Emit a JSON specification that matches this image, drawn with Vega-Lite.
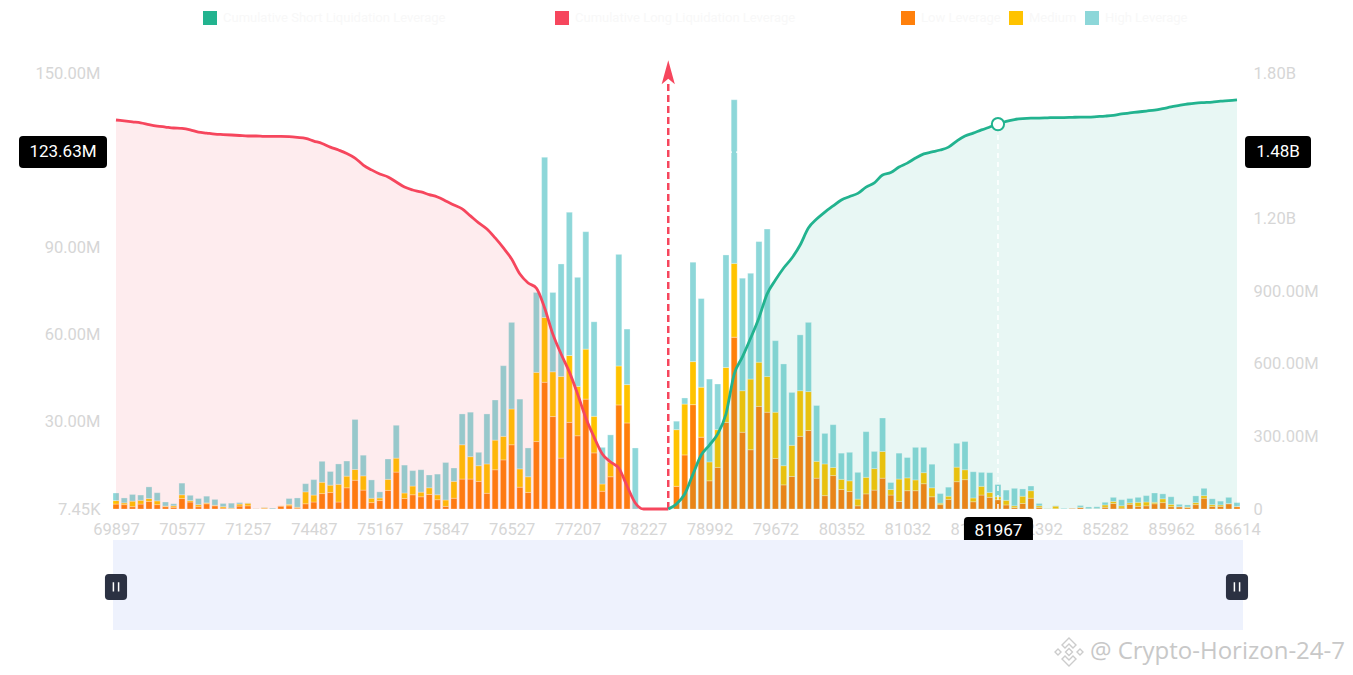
{
"$schema":"https://vega.github.io/schema/vega-lite/v6.json",
"width":1121,"height":436,
"autosize":{"type":"none"},
"padding":{"left":116,"top":73,"right":116,"bottom":166},
"background":"#ffffff",
"config":{"view":{"stroke":null},"font":"Roboto"},
"data":{"values":[
{"p":69897,"low":1.7,"mid":1.2,"top":2.6,"long":1.606},
{"p":69982,"low":1.5,"mid":0.6,"top":1.7,"long":1.602},
{"p":70067,"low":0.8,"mid":1.9,"top":2.3,"long":1.598},
{"p":70152,"low":1.7,"mid":1.3,"top":1.8,"long":1.594},
{"p":70237,"low":2.6,"mid":1.0,"top":4.0,"long":1.587},
{"p":70322,"low":1.5,"mid":1.3,"top":2.8,"long":1.581},
{"p":70407,"low":0.8,"mid":0.2,"top":1.4,"long":1.577},
{"p":70492,"low":0.6,"mid":0.5,"top":0.7,"long":1.573},
{"p":70577,"low":3.6,"mid":1.3,"top":4.0,"long":1.571},
{"p":70662,"low":2.4,"mid":0.5,"top":1.8,"long":1.565},
{"p":70747,"low":0.8,"mid":0.7,"top":2.1,"long":1.556},
{"p":70832,"low":1.8,"mid":0.3,"top":2.3,"long":1.552},
{"p":70917,"low":1.1,"mid":0.2,"top":2.0,"long":1.548},
{"p":71002,"low":0.3,"mid":0.5,"top":1.1,"long":1.546},
{"p":71087,"low":0.1,"mid":0.2,"top":1.7,"long":1.544},
{"p":71172,"low":1.0,"mid":0.7,"top":0.5,"long":1.542},
{"p":71257,"low":1.1,"mid":0.9,"top":0.1,"long":1.540},
{"p":71342,"low":0.05,"mid":0.05,"top":0.05,"long":1.540},
{"p":71512,"low":0.2,"mid":0.3,"top":0.1,"long":1.538},
{"p":72107,"low":0.05,"mid":0,"top":0.3,"long":1.538},
{"p":72787,"low":1.0,"mid":0.1,"top":0,"long":1.538},
{"p":73467,"low":1.1,"mid":0.5,"top":2.0,"long":1.537},
{"p":74317,"low":0.3,"mid":0.3,"top":3.2,"long":1.534},
{"p":74402,"low":1.8,"mid":4.1,"top":2.8,"long":1.530},
{"p":74487,"low":2.4,"mid":2.4,"top":5.3,"long":1.519},
{"p":74572,"low":5.3,"mid":3.9,"top":7.2,"long":1.509},
{"p":74657,"low":5.7,"mid":2.5,"top":4.7,"long":1.494},
{"p":74742,"low":2.4,"mid":6.1,"top":7.0,"long":1.482},
{"p":74827,"low":7.3,"mid":4.0,"top":5.2,"long":1.468},
{"p":74912,"low":9.9,"mid":3.7,"top":17.2,"long":1.449},
{"p":74997,"low":6.5,"mid":4.9,"top":7.1,"long":1.420},
{"p":75082,"low":2.2,"mid":1.5,"top":6.3,"long":1.400},
{"p":75167,"low":2.9,"mid":0.9,"top":2.1,"long":1.383},
{"p":75252,"low":6.4,"mid":3.8,"top":7.0,"long":1.371},
{"p":75337,"low":12.7,"mid":4.8,"top":11.3,"long":1.350},
{"p":75422,"low":3.6,"mid":1.9,"top":9.6,"long":1.329},
{"p":75507,"low":4.9,"mid":3.0,"top":5.3,"long":1.317},
{"p":75592,"low":4.2,"mid":1.6,"top":7.7,"long":1.309},
{"p":75677,"low":5.0,"mid":2.3,"top":4.4,"long":1.298},
{"p":75762,"low":3.2,"mid":1.7,"top":7.1,"long":1.288},
{"p":75847,"low":0.9,"mid":2.2,"top":12.9,"long":1.272},
{"p":75932,"low":3.7,"mid":5.8,"top":4.6,"long":1.255},
{"p":76017,"low":10.3,"mid":11.8,"top":10.6,"long":1.239},
{"p":76102,"low":10.3,"mid":7.7,"top":15.3,"long":1.210},
{"p":76187,"low":9.5,"mid":5.4,"top":4.6,"long":1.181},
{"p":76272,"low":5.4,"mid":10.1,"top":17.2,"long":1.156},
{"p":76357,"low":13.5,"mid":10.2,"top":13.8,"long":1.119},
{"p":76442,"low":16.9,"mid":8.1,"top":24.3,"long":1.078},
{"p":76527,"low":22.1,"mid":12.3,"top":29.8,"long":1.032},
{"p":76612,"low":7.5,"mid":6.3,"top":24.0,"long":0.970},
{"p":76697,"low":5.7,"mid":5.4,"top":9.9,"long":0.933},
{"p":76782,"low":23.2,"mid":23.8,"top":27.5,"long":0.912},
{"p":76867,"low":43.6,"mid":22.3,"top":55.1,"long":0.830},
{"p":76952,"low":31.8,"mid":15.4,"top":27.3,"long":0.722},
{"p":77037,"low":17.5,"mid":28.1,"top":38.7,"long":0.640},
{"p":77122,"low":29.8,"mid":23.0,"top":49.3,"long":0.566},
{"p":77207,"low":25.2,"mid":17.0,"top":37.5,"long":0.475},
{"p":77292,"low":37.8,"mid":17.2,"top":40.4,"long":0.376},
{"p":77377,"low":19.3,"mid":12.6,"top":32.5,"long":0.297},
{"p":77462,"low":6.1,"mid":2.5,"top":12.6,"long":0.227},
{"p":77547,"low":11.1,"mid":5.0,"top":9.4,"long":0.194},
{"p":77632,"low":35.8,"mid":13.4,"top":38.4,"long":0.169},
{"p":77717,"low":29.6,"mid":13.2,"top":19.1,"long":0.095},
{"p":77802,"low":0,"mid":0,"top":21.0,"long":0.025},
{"p":78227,"low":0,"mid":0,"top":0,"long":0},
{"p":78312,"low":0,"mid":0,"top":0,"long":0},
{"p":78397,"low":0,"mid":0,"top":0,"long":0},
{"p":78482,"low":0,"mid":0,"top":0,"long":0,"short":0},
{"p":78652,"low":7.8,"mid":19.5,"top":2.9,"short":0.021},
{"p":78737,"low":18.6,"mid":17.5,"top":2.1,"short":0.062},
{"p":78822,"low":35.9,"mid":14.8,"top":34.2,"short":0.144},
{"p":78907,"low":24.7,"mid":17.2,"top":30.5,"short":0.223},
{"p":78992,"low":9.7,"mid":6.5,"top":28.5,"short":0.264},
{"p":79077,"low":14.3,"mid":13.0,"top":15.7,"short":0.310},
{"p":79162,"low":29.8,"mid":18.9,"top":38.7,"short":0.392},
{"p":79247,"low":59.1,"mid":25.4,"top":56.3,"short":0.557},
{"p":79332,"low":26.4,"mid":14.3,"top":38.7,"short":0.628},
{"p":79417,"low":20.4,"mid":24.3,"top":36.4,"short":0.706},
{"p":79502,"low":35.3,"mid":15.2,"top":41.5,"short":0.789},
{"p":79587,"low":33.3,"mid":12.3,"top":50.7,"short":0.888},
{"p":79672,"low":17.4,"mid":15.9,"top":24.6,"short":0.945},
{"p":79757,"low":8.3,"mid":6.6,"top":35.0,"short":0.995},
{"p":79842,"low":11.2,"mid":10.7,"top":18.2,"short":1.036},
{"p":79927,"low":25.0,"mid":15.7,"top":19.2,"short":1.090},
{"p":80012,"low":27.0,"mid":13.4,"top":23.8,"short":1.160},
{"p":80097,"low":10.6,"mid":5.8,"top":19.2,"short":1.197},
{"p":80182,"low":4.6,"mid":10.9,"top":10.5,"short":1.226},
{"p":80267,"low":11.5,"mid":2.8,"top":14.7,"short":1.251},
{"p":80352,"low":6.7,"mid":3.5,"top":9.0,"short":1.276},
{"p":80437,"low":6.0,"mid":3.7,"top":9.8,"short":1.290},
{"p":80522,"low":1.1,"mid":2.3,"top":9.2,"short":1.303},
{"p":80607,"low":5.2,"mid":5.7,"top":15.7,"short":1.329},
{"p":80692,"low":6.5,"mid":7.4,"top":5.9,"short":1.346},
{"p":80777,"low":10.6,"mid":9.2,"top":11.5,"short":1.379},
{"p":80862,"low":4.8,"mid":1.9,"top":2.4,"short":1.389},
{"p":80947,"low":2.6,"mid":7.7,"top":8.9,"short":1.412},
{"p":81032,"low":6.3,"mid":4.4,"top":7.0,"short":1.428},
{"p":81117,"low":6.3,"mid":3.7,"top":11.2,"short":1.449},
{"p":81202,"low":8.7,"mid":3.8,"top":8.7,"short":1.466},
{"p":81287,"low":4.2,"mid":3.1,"top":8.1,"short":1.474},
{"p":81372,"low":1.5,"mid":0.5,"top":3.3,"short":1.482},
{"p":81457,"low":3.3,"mid":1.1,"top":3.1,"short":1.494},
{"p":81542,"low":9.4,"mid":5.0,"top":8.2,"short":1.519},
{"p":81627,"low":10.1,"mid":3.4,"top":9.7,"short":1.540},
{"p":81712,"low":2.5,"mid":1.3,"top":9.0,"short":1.552},
{"p":81797,"low":4.8,"mid":3.0,"top":4.8,"short":1.565},
{"p":81882,"low":4.0,"mid":1.7,"top":6.8,"short":1.577},
{"p":81967,"low":3.2,"mid":1.0,"top":4.2,"short":1.589},
{"p":82052,"low":1.4,"mid":1.6,"top":3.5,"short":1.600},
{"p":82137,"low":0.5,"mid":0.6,"top":6.0,"short":1.608},
{"p":82222,"low":1.9,"mid":2.5,"top":2.5,"short":1.612},
{"p":82307,"low":3.7,"mid":2.6,"top":1.6,"short":1.614},
{"p":82392,"low":0.5,"mid":0.6,"top":0.8,"short":1.614},
{"p":82477,"low":0.05,"mid":0.05,"top":0.05,"short":1.615},
{"p":82562,"low":0.1,"mid":0.9,"top":0.1,"short":1.616},
{"p":83242,"low":0,"mid":0,"top":0.2,"short":1.616},
{"p":83752,"low":0.3,"mid":0,"top":0,"short":1.617},
{"p":84262,"low":0.5,"mid":0.1,"top":0.6,"short":1.618},
{"p":84772,"low":0.1,"mid":0,"top":0.6,"short":1.618},
{"p":85197,"low":0.1,"mid":0.05,"top":0.6,"short":1.620},
{"p":85282,"low":0.6,"mid":0.8,"top":0.9,"short":1.622},
{"p":85367,"low":1.9,"mid":0.7,"top":1.4,"short":1.625},
{"p":85452,"low":0.3,"mid":0.8,"top":2.1,"short":1.631},
{"p":85537,"low":1.6,"mid":0.5,"top":1.5,"short":1.635},
{"p":85622,"low":0.9,"mid":1.4,"top":1.7,"short":1.639},
{"p":85707,"low":1.1,"mid":1.3,"top":2.2,"short":1.643},
{"p":85792,"low":1.8,"mid":0.5,"top":3.2,"short":1.647},
{"p":85877,"low":2.2,"mid":1.3,"top":1.7,"short":1.653},
{"p":85962,"low":0.8,"mid":0.8,"top":2.6,"short":1.660},
{"p":86047,"low":0.8,"mid":0,"top":0.8,"short":1.666},
{"p":86132,"low":0.5,"mid":0.2,"top":0.7,"short":1.672},
{"p":86217,"low":1.5,"mid":0.7,"top":2.3,"short":1.676},
{"p":86302,"low":3.7,"mid":0.9,"top":2.5,"short":1.678},
{"p":86387,"low":0.9,"mid":0.6,"top":2.0,"short":1.680},
{"p":86472,"low":0.9,"mid":0.5,"top":1.3,"short":1.684},
{"p":86557,"low":1.8,"mid":0.1,"top":2.1,"short":1.686},
{"p":86614,"low":0.8,"mid":0.1,"top":1.3,"short":1.689}
]},
"encoding":{"x":{"field":"p","type":"ordinal","scale":{"type":"point","padding":0},
  "axis":{"values":[69897,70577,71257,74487,75167,75847,76527,77207,78227,78992,79672,80352,81032,81712,82392,85282,85962,86614],
  "labelAngle":0,"ticks":false,"tickSize":0,"domain":false,"grid":false,"labelPadding":12,"labelColor":"#d6d6d6","labelFontSize":16.5,"labelFont":"Roboto","labelOverlap":false,"title":null,"zindex":0}}},
"layer":[
{"layer":[
 {"transform":[{"fold":["low","mid","top"],"as":["lev","v"]}],
  "mark":{"type":"bar","width":6,"stroke":"#ffffff","strokeWidth":0.6,"strokeOpacity":0.5},
  "encoding":{
   "y":{"field":"v","type":"quantitative","stack":"zero","scale":{"domain":[0,150],"nice":false,"zero":true},
     "axis":{"orient":"left","values":[0,30,60,90,150],"labelExpr":"datum.value == 0 ? '7.45K' : format(datum.value, '.2f') + 'M'","ticks":false,"tickSize":0,"domain":false,"grid":false,"labelPadding":16,"labelColor":"#d6d6d6","labelFontSize":16.5,"labelFont":"Roboto","title":null,"zindex":0}},
   "color":{"field":"lev","type":"nominal","scale":{"domain":["low","mid","top"],"range":["#ff800b","#ffc300","#8dd7d9"]},
     "legend":{"orient":"none","legendX":785,"legendY":-62,"direction":"horizontal","title":null,"symbolType":"square","symbolSize":196,"symbolStrokeWidth":0,"symbolOpacity":1,"labelColor":"#f8f8f8","labelFontSize":13,"labelOffset":6,"labelLimit":400,"columnPadding":8,"padding":0,"labelExpr":"datum.value == 'low' ? 'Low Leverage' : datum.value == 'mid' ? 'Medium' : 'High Leverage'"}},
   "order":{"field":"lev","type":"ordinal","sort":"ascending"}
  }},
 {"data":{"values":[{"p":69897,"p2":86614,"v":122.8}]},
  "mark":{"type":"rule","color":"#ffffff","strokeWidth":1.3,"strokeDash":[6,4]},
  "encoding":{"x2":{"field":"p2"},"y":{"field":"v","type":"quantitative","scale":{"domain":[0,150],"nice":false}}}},
 {"data":{"values":[{"p":69897,"v":122.8}]},
  "mark":{"type":"point","filled":true,"opacity":1,"color":"#000000","strokeWidth":0,"size":10000,
   "shape":"M-1.86,-0.32H-0.26Q-0.18,-0.32,-0.18,-0.24V0.24Q-0.18,0.32,-0.26,0.32H-1.86Q-1.94,0.32,-1.94,0.24V-0.24Q-1.94,-0.32,-1.86,-0.32Z"},
  "encoding":{"y":{"field":"v","type":"quantitative","scale":{"domain":[0,150],"nice":false}}}},
 {"data":{"values":[{"p":69897,"v":122.8,"t":"123.63M"}]},
  "mark":{"type":"text","color":"#ffffff","fontSize":17,"font":"Roboto","dx":-53,"align":"center","baseline":"middle"},
  "encoding":{"y":{"field":"v","type":"quantitative","scale":{"domain":[0,150],"nice":false}},"text":{"field":"t"}}},
 {"data":{"values":[{"p":81967,"v":0}]},
  "mark":{"type":"point","filled":true,"opacity":1,"color":"#000000","strokeWidth":0,"size":10000,
   "shape":"M-0.6,0.16H0.62Q0.7,0.16,0.7,0.24V0.64Q0.7,0.72,0.62,0.72H-0.6Q-0.68,0.72,-0.68,0.64V0.24Q-0.68,0.16,-0.6,0.16Z"},
  "encoding":{"y":{"field":"v","type":"quantitative","scale":{"domain":[0,150],"nice":false}}}},
 {"data":{"values":[{"p":81967,"v":0,"t":"81967"}]},
  "mark":{"type":"text","color":"#ffffff","fontSize":17,"font":"Roboto","dx":0.5,"dy":22,"align":"center","baseline":"middle"},
  "encoding":{"y":{"field":"v","type":"quantitative","scale":{"domain":[0,150],"nice":false}},"text":{"field":"t"}}},
 {"data":{"values":[{"p":78482,"a":0,"b":146.5}]},
  "mark":{"type":"rule","color":"#f6465d","strokeWidth":2.5,"strokeDash":[7,4]},
  "encoding":{"y":{"field":"a","type":"quantitative","scale":{"domain":[0,150],"nice":false}},"y2":{"field":"b"}}},
 {"data":{"values":[{"p":78482,"v":150.3}]},
  "mark":{"type":"point","filled":true,"opacity":1,"color":"#f6465d","strokeWidth":0,"size":576,"shape":"M0,-1L0.55,1L0,0.55L-0.55,1Z"},
  "encoding":{"y":{"field":"v","type":"quantitative","scale":{"domain":[0,150],"nice":false}}}},
 {"data":{"values":[{"p":69897,"p2":86614,"y1":-10.7,"y2":-41.6}]},
  "mark":{"type":"rect","color":"#eef2fd","xOffset":-3,"x2Offset":6},
  "encoding":{"x2":{"field":"p2"},"y":{"field":"y1","type":"quantitative","scale":{"domain":[0,150],"nice":false}},"y2":{"field":"y2"}}},
 {"data":{"values":[{"p":69897,"h":-26.8},{"p":86614,"h":-26.8}]},
  "mark":{"type":"point","filled":true,"opacity":1,"color":"#2b3142","strokeWidth":0,"size":676,
   "shape":"M-0.55,-1H0.55Q0.85,-1,0.85,-0.7V0.7Q0.85,1,0.55,1H-0.55Q-0.85,1,-0.85,0.7V-0.7Q-0.85,-1,-0.55,-1Z"},
  "encoding":{"y":{"field":"h","type":"quantitative","scale":{"domain":[0,150],"nice":false}}}},
 {"data":{"values":[{"p":69897,"h":-26.8},{"p":86614,"h":-26.8}]},
  "mark":{"type":"point","filled":false,"opacity":1,"color":"#ffffff","strokeWidth":1.5,"size":676,"shape":"M-0.2,-0.35V0.35M0.2,-0.35V0.35"},
  "encoding":{"y":{"field":"h","type":"quantitative","scale":{"domain":[0,150],"nice":false}}}},
 {"data":{"values":[{"p":86614,"w":-49.2,"t":"@ Crypto-Horizon-24-7"}]},
  "mark":{"type":"text","color":"#c8c8c8","fontSize":24,"font":"Open Sans","dx":108,"align":"right","baseline":"middle"},
  "encoding":{"y":{"field":"w","type":"quantitative","scale":{"domain":[0,150],"nice":false}},"text":{"field":"t"}}},
 {"data":{"values":[{"p":86614,"w":-49.2}]},
  "mark":{"type":"point","filled":false,"opacity":1,"color":"#cccccc","strokeWidth":1.4,"size":10000,
   "shape":"M-3.36,-0.28L-3.22,-0.14L-3.28,-0.08L-3.36,-0.16L-3.44,-0.08L-3.5,-0.14Z M-3.36,0.28L-3.22,0.14L-3.28,0.08L-3.36,0.16L-3.44,0.08L-3.5,0.14Z M-3.64,0L-3.58,-0.06L-3.52,0L-3.58,0.06Z M-3.08,0L-3.14,-0.06L-3.2,0L-3.14,0.06Z M-3.36,-0.07L-3.29,0L-3.36,0.07L-3.43,0Z"},
  "encoding":{"y":{"field":"w","type":"quantitative","scale":{"domain":[0,150],"nice":false}}}}
]},
{"layer":[
 {"mark":{"type":"area","interpolate":"monotone","color":"#f6465d","opacity":0.1},
  "encoding":{"y":{"field":"long","type":"quantitative","scale":{"domain":[0,1.8],"nice":false,"zero":true},
    "axis":{"orient":"right","values":[0,0.3,0.6,0.9,1.2,1.8],"labelExpr":"datum.value == 0 ? '0' : datum.value >= 1 ? format(datum.value, '.2f') + 'B' : format(datum.value * 1000, '.2f') + 'M'","ticks":false,"tickSize":0,"domain":false,"grid":false,"labelPadding":16,"labelColor":"#d6d6d6","labelFontSize":16.5,"labelFont":"Roboto","title":null,"zindex":0}}}},
 {"mark":{"type":"area","interpolate":"monotone","color":"#22b38f","opacity":0.1},
  "encoding":{"y":{"field":"short","type":"quantitative","scale":{"domain":[0,1.8],"nice":false,"zero":true}}}},
 {"mark":{"type":"line","interpolate":"monotone","strokeWidth":2.8},
  "encoding":{"y":{"field":"long","type":"quantitative","scale":{"domain":[0,1.8],"nice":false,"zero":true}},
   "stroke":{"datum":"long","scale":{"domain":["short","long"],"range":["#22b38f","#f6465d"]},
     "legend":{"orient":"none","legendX":87,"legendY":-62,"direction":"horizontal","title":null,"symbolType":"square","symbolSize":196,"symbolStrokeWidth":0,"symbolOpacity":1,"labelColor":"#f8f8f8","labelFontSize":13,"labelOffset":6,"labelLimit":400,"columnPadding":109,"padding":0,
       "labelExpr":"datum.value == 'short' ? 'Cumulative Short Liquidation Leverage' : 'Cumulative Long Liquidation Leverage'",
       "encode":{"symbols":{"update":{"fill":{"scale":"stroke","field":"value"},"fillOpacity":{"value":1},"opacity":{"value":1}}}}}}}},
 {"mark":{"type":"line","interpolate":"monotone","strokeWidth":2.8},
  "encoding":{"y":{"field":"short","type":"quantitative","scale":{"domain":[0,1.8],"nice":false,"zero":true}},
   "stroke":{"datum":"short","scale":{"domain":["short","long"],"range":["#22b38f","#f6465d"]}}}},
 {"data":{"values":[{"p":81967,"z":0,"v":1.589}]},
  "mark":{"type":"rule","color":"#ffffff","strokeWidth":1.5,"strokeDash":[5,4]},
  "encoding":{"y":{"field":"z","type":"quantitative","scale":{"domain":[0,1.8],"nice":false,"zero":true}},"y2":{"field":"v"}}},
 {"data":{"values":[{"p":81967,"v":1.589}]},
  "mark":{"type":"point","shape":"circle","size":150,"filled":true,"fill":"#ffffff","stroke":"#22b38f","strokeWidth":2,"opacity":1},
  "encoding":{"y":{"field":"v","type":"quantitative","scale":{"domain":[0,1.8],"nice":false,"zero":true}}}},
 {"data":{"values":[{"p":86614,"v":1.474}]},
  "mark":{"type":"point","filled":true,"opacity":1,"color":"#000000","strokeWidth":0,"size":10000,
   "shape":"M0.24,-0.32H1.4Q1.48,-0.32,1.48,-0.24V0.24Q1.48,0.32,1.4,0.32H0.24Q0.16,0.32,0.16,0.24V-0.24Q0.16,-0.32,0.24,-0.32Z"},
  "encoding":{"y":{"field":"v","type":"quantitative","scale":{"domain":[0,1.8],"nice":false,"zero":true}}}},
 {"data":{"values":[{"p":86614,"v":1.474,"t":"1.48B"}]},
  "mark":{"type":"text","color":"#ffffff","fontSize":17,"font":"Roboto","dx":41,"align":"center","baseline":"middle"},
  "encoding":{"y":{"field":"v","type":"quantitative","scale":{"domain":[0,1.8],"nice":false,"zero":true}},"text":{"field":"t"}}}
]}
],
"resolve":{"scale":{"y":"independent"}}
}
